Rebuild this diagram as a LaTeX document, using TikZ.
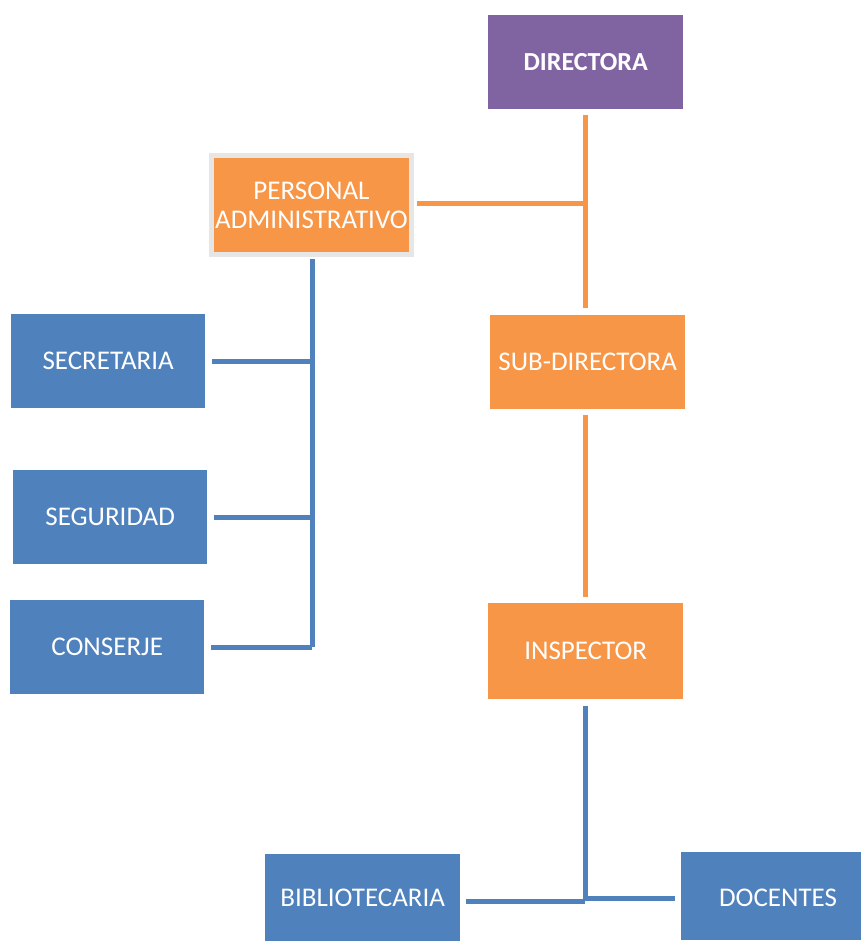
\documentclass[tikz,border=0pt]{standalone}
\usepackage{fontspec}
\setmainfont{Carlito}
\definecolor{purp}{HTML}{8064A2}
\definecolor{orng}{HTML}{F79646}
\definecolor{blu}{HTML}{4F81BD}
\definecolor{grayb}{HTML}{E6E6E6}
\begin{document}
\begin{tikzpicture}[x=1pt,y=-1pt,
  box/.style={rectangle, anchor=north west, inner sep=0pt, text=white, align=center,
    font=\fontsize{27}{29}\selectfont},
  ol/.style={draw=orng, line width=5pt},
  bl/.style={draw=blu, line width=5pt}]
\useasboundingbox (0,0) rectangle (861,941);
% boxes
\node[box, fill=purp, minimum width=195pt, minimum height=94pt, font=\fontsize{26}{29}\selectfont\bfseries] (dir) at (488,15) {DIRECTORA};
\node[box, fill=orng, draw=grayb, line width=5pt, minimum width=200pt, minimum height=99pt] (pa) at (209,153) {PERSONAL\\ADMINISTRATIVO};
\node[box, fill=orng, minimum width=195pt, minimum height=94pt] (sub) at (490,315) {SUB-DIRECTORA};
\node[box, fill=orng, minimum width=195pt, minimum height=96pt] (insp) at (488,603) {INSPECTOR};
\node[box, fill=blu, minimum width=194pt, minimum height=94pt] (sec) at (11,314) {SECRETARIA};
\node[box, fill=blu, minimum width=194pt, minimum height=94pt] (seg) at (13,470) {SEGURIDAD};
\node[box, fill=blu, minimum width=194pt, minimum height=94pt] (con) at (10,600) {CONSERJE};
\node[box, fill=blu, minimum width=195pt, minimum height=87pt] (bib) at (265,854) {BIBLIOTECARIA};
\node[box, fill=blu, minimum width=180pt, minimum height=88pt, text depth=0pt, text height=0pt] (doc) at (681,852) {};
\node[text=white, font=\fontsize{27}{29}\selectfont, inner sep=0pt] (doct) at (778,898) {DOCENTES};
% coordinates
\coordinate (j1) at (585,204);
\coordinate (pv) at (312,647);
\coordinate (j2) at (585,901);
% orange lines
\draw[ol] ([yshift=-6pt]dir.south -| j1) -- ([yshift=7pt]sub.north -| j1);
\draw[ol] ([xshift=3pt]pa.east |- j1) -- (j1);
\draw[ol] ([yshift=-6pt]sub.south -| j1) -- ([yshift=6pt]insp.north -| j1);
% blue lines left
\draw[bl] ([yshift=-2pt]pa.south -| pv) -- (pv);
\draw[bl] ([xshift=7pt]sec.east |- 0,361) -- (312,361);
\draw[bl] ([xshift=7pt]seg.east |- 0,517) -- (312,517);
\draw[bl] ([xshift=7pt]con.east |- pv) -- (pv);
% blue lines bottom
\draw[bl] ([yshift=-7pt]insp.south -| j2) -- (j2);
\draw[bl] ([xshift=6pt]bib.east |- j2) -- (j2);
\draw[bl] (585,898) -- ([xshift=-6pt]doc.west |- 0,898);
\end{tikzpicture}
\end{document}
